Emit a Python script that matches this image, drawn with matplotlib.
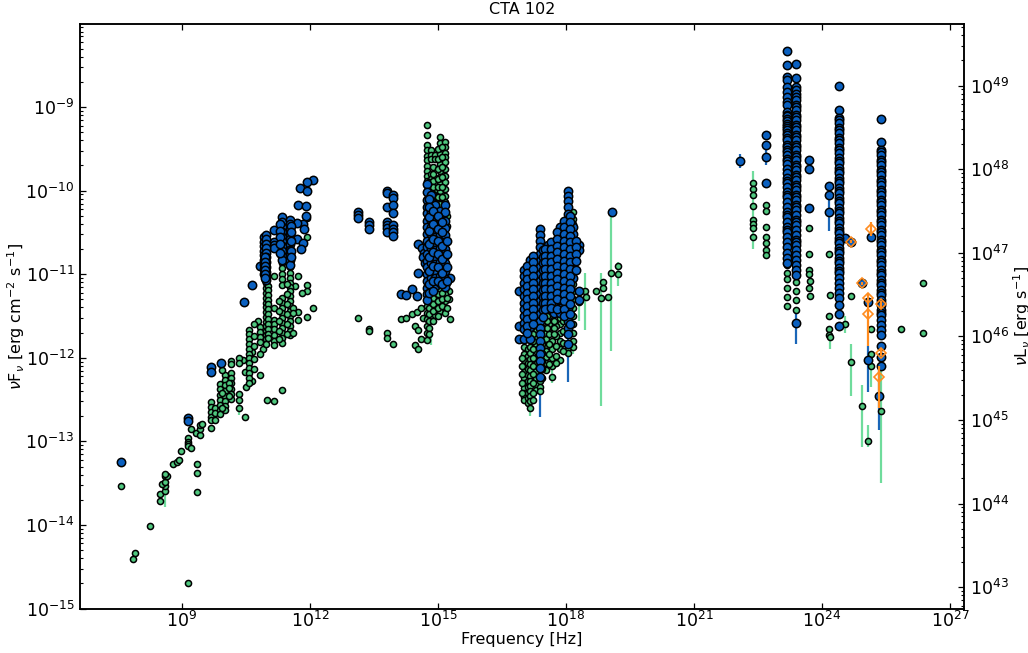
import numpy as np
import matplotlib
matplotlib.use("Agg")
import matplotlib.pyplot as plt

# everything is log10(frequency) and log10(nuFnu)
# scattered green points
radio_g_nu = [7.56, 7.90, 7.86, 8.24, 9.14, 8.49, 8.49, 8.60, 8.60, 8.54, 8.60, 8.60, 8.66, 8.60, 8.79, 8.88, 8.93, 8.98,
              9.14, 9.14, 9.14, 9.14, 9.22, 9.36, 9.36, 9.36, 9.22, 9.34, 9.42, 9.42, 9.42, 9.48,
              10.44, 10.48, 10.48, 10.49, 10.63, 10.63, 10.78, 11.0, 11.16, 11.34, 11.73, 11.92, 11.92, 11.82, 12.08,
              11.73, 11.73, 11.92, 11.66, 11.92, 11.92, 11.10, 10.90]
radio_g_f = [-13.54, -14.33, -14.41, -14.01, -14.69, -13.71, -13.63, -13.60, -13.54, -13.51, -13.49, -13.41, -13.41, -13.39, -13.27, -13.25, -13.22, -13.11,
             -12.96, -13.01, -13.03, -13.06, -13.08, -13.27, -13.38, -13.61, -12.85, -12.90, -12.93, -12.85, -12.81, -12.79,
             -12.03, -12.17, -12.71, -12.35, -11.93, -12.28, -11.56, -12.50, -12.52, -12.38, -11.02, -11.13, -11.20, -11.22, -11.41,
             -11.45, -11.55, -11.51, -11.14, -10.33, -10.56, -11.60, -11.90]

# columns of green points: one frequency, many fluxes
radio_g_cols = [9.68, 9.78, 9.89, 10.01, 10.16, 10.34, 10.57, 10.84, 10.98, 11.16, 11.34, 11.53, 9.95, 10.10, 10.70, 11.02, 11.28, 11.47, 11.60]
radio_g_vals = [
    [-12.53, -12.59, -12.65, -12.71, -12.75, -12.84],
    [-12.60, -12.66, -12.74],
    [-12.31, -12.37, -12.44, -12.50, -12.56, -12.62, -12.67],
    [-12.21, -12.27, -12.33, -12.40, -12.46, -12.52, -12.58, -12.63],
    [-12.04, -12.07, -12.18, -12.24, -12.30, -12.37, -12.43, -12.49],
    [-12.00, -12.06, -12.43, -12.51, -12.60],
    [-11.67, -11.72, -11.77, -11.83, -11.89, -11.95, -12.00, -12.06, -12.12, -12.18, -12.24, -12.30],
    [-11.63, -11.69, -11.75, -11.81, -11.95, -12.21],
    [-11.11, -11.16, -11.22, -11.28, -11.34, -11.39, -11.45, -11.51, -11.57, -11.62, -11.68, -11.73, -11.78, -11.83],
    [-11.02, -11.41, -11.55, -11.60, -11.66, -11.73, -11.80, -11.85],
    [-10.87, -10.93, -11.00, -11.06, -11.13, -11.28, -11.34, -11.40, -11.46, -11.52, -11.58, -11.64, -11.70, -11.76, -11.82],
    [-10.92, -10.98, -11.05, -11.10, -11.15, -11.20, -11.26, -11.32, -11.38, -11.44, -11.50, -11.56, -11.62, -11.68, -11.73],
    [-12.15, -12.42, -12.60],
    [-12.30, -12.36, -12.46],
    [-11.60, -11.74, -11.86, -12.02, -12.14],
    [-11.14, -11.19, -11.25, -11.31, -11.36, -11.42, -11.48, -11.54, -11.60, -11.65, -11.71, -11.76],
    [-11.32, -11.44, -11.56, -11.68, -11.77],
    [-11.12, -11.24, -11.36, -11.48, -11.60, -11.71],
    [-11.40, -11.46, -11.70],
]

radio_b_nu = [7.56, 9.14, 9.14, 9.68, 9.68, 9.91, 10.46, 10.63, 10.84, 11.16, 11.16, 11.16, 11.16, 12.08, 11.92, 11.77, 11.92,
              11.73, 11.90, 11.90, 11.83, 11.85, 11.69, 11.69, 11.83, 11.78]
radio_b_f = [-13.25, -12.72, -12.76, -12.11, -12.17, -12.06, -11.33, -11.13, -10.90, -10.47, -10.62, -10.65, -10.69, -9.87, -9.90, -9.97, -10.00,
             -10.17, -10.18, -10.30, -10.40, -10.46, -10.39, -10.58, -10.63, -10.70]
radio_b_cols = [10.92, 10.98, 11.34, 11.53, 10.95, 11.30, 11.56]
radio_b_vals = [
    [-10.55, -10.61, -10.66, -10.72, -10.77, -10.83, -10.88, -10.94, -11.00],
    [-10.53, -10.58, -10.64, -10.69, -10.75, -10.80, -10.86, -10.91, -10.97, -11.02, -11.07],
    [-10.32, -10.38, -10.44, -10.50, -10.56, -10.60, -10.66, -10.72, -10.78, -10.83],
    [-10.35, -10.40, -10.46, -10.52, -10.58, -10.64, -10.71, -10.77, -10.83, -10.89],
    [-10.80, -10.85, -10.90, -10.95, -11.00, -11.05],
    [-10.40, -10.48, -10.56, -10.64, -10.75],
    [-10.42, -10.50, -10.60, -10.72, -10.80],
]

# optical / IR
opt_g_nu = [13.13, 13.39, 13.39, 13.81, 13.81, 13.94, 14.13, 14.25, 14.38, 14.51, 14.46, 14.53, 14.60, 14.46, 14.53, 15.29, 14.60, 14.65, 15.25, 15.25]
opt_g_f = [-11.53, -11.65, -11.68, -11.70, -11.76, -11.84, -11.54, -11.53, -11.48, -11.45, -11.62, -11.67, -11.78, -11.85, -11.90, -11.54, -11.40, -11.52, -11.30, -11.20]
opt_g_cols = [14.74, 14.84, 14.93, 15.05, 15.16, 14.79, 14.88, 15.00, 15.10, 15.21]
opt_g_vals = [
    [-9.22, -9.34, -9.46, -9.52, -9.58, -9.63, -9.70, -9.76, -9.82, -9.88, -9.95, -10.03, -10.10, -10.18, -10.26, -10.34, -10.42, -10.50,
     -10.58, -10.66, -10.74, -10.82, -10.90, -10.98, -11.06, -11.14, -11.22, -11.30, -11.38, -11.46, -11.54, -11.62, -11.70, -11.79],
    [-9.51, -9.57, -9.62, -9.80, -9.86, -9.93, -10.00, -10.08, -10.16, -10.24, -10.32, -10.40, -11.20, -11.28, -11.36, -11.44, -11.52],
    [-9.57, -9.62, -9.85, -9.92, -9.99, -10.07, -10.15, -10.23, -10.31, -10.39, -10.47, -11.25, -11.33, -11.41, -11.49],
    [-9.36, -9.43, -9.56, -9.68, -9.76, -9.84, -9.92, -10.00, -10.08, -10.16, -10.24, -10.32, -11.20, -11.28, -11.36, -11.44],
    [-9.42, -9.48, -9.55, -9.60, -9.66, -9.74, -9.82, -9.90, -9.98, -10.06, -10.14, -11.18, -11.24, -11.32, -11.40, -11.46],
    [-9.90, -9.98, -10.06, -11.24, -11.32, -11.40, -11.48, -11.56, -11.64, -11.72],
    [-9.72, -9.80, -9.88, -9.96, -10.04, -11.28, -11.36, -11.44, -11.56],
    [-9.50, -9.62, -9.74, -9.86, -9.96, -10.08, -11.24, -11.32, -11.40, -11.50],
    [-9.48, -9.60, -9.72, -9.84, -9.96, -10.08, -11.22, -11.30, -11.38],
    [-10.30, -10.42, -11.10, -11.28, -11.40],
]
opt_b_nu = [13.13, 13.13, 13.13, 13.39, 13.39, 13.39, 13.81, 13.81, 13.81, 13.81, 13.81, 13.81, 13.81,
            13.94, 13.94, 13.94, 13.94, 13.94, 13.94, 13.94, 13.94,
            14.53, 14.62, 14.68, 14.64, 14.70, 14.54, 14.38, 14.13, 14.25, 14.50, 15.29]
opt_b_f = [-10.25, -10.29, -10.33, -10.37, -10.41, -10.46, -10.01, -10.03, -10.20, -10.37, -10.41, -10.45, -10.49,
           -10.05, -10.09, -10.17, -10.27, -10.41, -10.46, -10.50, -10.54,
           -10.64, -10.69, -10.75, -10.80, -10.87, -10.99, -11.18, -11.24, -11.25, -11.26, -11.05]
opt_b_cols = [14.74, 14.84, 14.93, 15.05, 15.16, 14.79, 14.88, 15.00, 15.10, 15.21]
opt_b_vals = [
    [-9.92, -10.02, -10.11, -10.20, -10.27, -10.36, -10.44, -10.52, -10.60, -10.68, -10.76, -10.84, -10.92, -11.00, -11.08, -11.16, -11.24, -11.31],
    [-10.05, -10.14, -10.26, -10.35, -10.44, -10.52, -10.61, -10.69, -10.78, -10.87, -10.95, -11.04, -11.13],
    [-10.17, -10.28, -10.37, -10.46, -10.55, -10.63, -10.71, -10.80, -10.88, -10.96, -11.05, -11.14],
    [-10.24, -10.34, -10.43, -10.52, -10.61, -10.69, -10.77, -10.85, -10.93, -11.02, -11.10],
    [-10.17, -10.26, -10.36, -10.45, -10.53, -10.61, -10.70, -10.78, -10.87, -10.96, -11.06, -11.15],
    [-10.10, -10.20, -10.32, -10.48, -10.64, -10.80, -10.96, -11.12, -11.22],
    [-10.24, -10.40, -10.58, -10.74, -10.90, -11.08, -11.20],
    [-10.30, -10.46, -10.60, -10.76, -10.92, -11.08],
    [-10.38, -10.50, -10.66, -10.82, -10.98, -11.12],
    [-10.60, -10.76, -10.92, -11.08],
]

# X-ray
xray_g_nu = [18.71, 18.82, 18.86, 18.86, 18.98, 19.05, 19.23, 19.23, 18.45, 18.47, 18.30]
xray_g_f = [-11.20, -11.29, -11.09, -11.16, -11.27, -10.98, -10.90, -11.00, -11.20, -11.27, -11.33]
xray_g_cols = [17.02, 17.10, 17.16, 17.30, 17.39, 17.53, 17.67, 17.86, 18.04, 18.17, 16.96, 17.23, 17.45, 17.60, 17.76, 17.94, 17.56, 17.72]
xray_g_vals = [
    [-11.87, -11.95, -12.03, -12.10, -12.17, -12.24, -12.30, -12.36, -12.42, -12.47, -12.51],
    [-11.90, -11.98, -12.06, -12.14, -12.21, -12.28, -12.35, -12.42, -12.48, -12.54],
    [-11.87, -11.94, -12.01, -12.08, -12.15, -12.22, -12.28, -12.34, -12.40, -12.46, -12.52, -12.60],
    [-11.60, -11.68, -11.76, -11.84, -11.92, -12.00, -12.08, -12.16, -12.24, -12.31, -12.38],
    [-12.28, -12.35, -12.40],
    [-11.63, -11.70, -11.78, -11.85, -11.92, -11.99, -12.06, -12.15],
    [-11.40, -11.50, -11.60, -11.70, -11.80, -11.90, -12.00, -12.10, -12.23],
    [-11.52, -11.60, -11.70, -11.80, -11.90, -12.03],
    [-11.88, -11.94],
    [-10.26, -10.34, -10.40, -11.12, -11.20, -11.30, -11.40, -11.50, -11.60, -11.70, -11.80, -11.87],
    [-12.00, -12.10, -12.20, -12.30, -12.42],
    [-11.72, -11.80, -11.90, -12.00, -12.10, -12.20, -12.30, -12.42, -12.50],
    [-11.84, -11.94, -12.04, -12.14, -12.24],
    [-11.50, -11.60, -11.72, -11.84, -11.96, -12.08],
    [-11.62, -11.74, -11.86, -11.98, -12.06],
    [-11.56, -11.68, -11.82, -11.92],
    [-11.42, -11.50, -11.56, -11.64],
    [-11.48, -11.56, -11.64, -11.72],
]
xray_b_nu = [18.30, 18.30, 18.30, 18.30, 16.90, 16.90, 16.90, 19.08]
xray_b_f = [-10.65, -10.71, -11.20, -11.31, -11.20, -11.62, -11.77, -10.26]
xray_b_cols = [17.02, 17.16, 17.30, 17.39, 17.46, 17.58, 17.73, 17.86, 18.04, 18.17, 17.09, 17.23, 17.52, 17.65, 17.80, 17.95, 18.10, 18.24]
xray_b_vals = [
    [-10.95, -11.02, -11.10, -11.18, -11.26, -11.34, -11.42, -11.50, -11.58, -11.66, -11.77],
    [-10.83, -10.91, -10.99, -11.07, -11.15, -11.23, -11.31, -11.39, -11.47, -11.55, -11.63, -11.77],
    [-10.81, -10.89, -10.97, -11.05, -11.13, -11.21, -11.29, -11.37, -11.45, -11.55],
    [-10.46, -10.53, -10.60, -10.68, -10.76, -10.84, -10.92, -11.00, -11.08, -11.16, -11.24, -11.32, -11.40, -11.48, -11.56, -11.64, -11.72, -11.80, -11.88, -11.96, -12.04, -12.12, -12.23],
    [-10.71, -10.79, -10.87, -10.95, -11.03, -11.11, -11.19, -11.27, -11.35, -11.43, -11.51],
    [-10.65, -10.73, -10.81, -10.89, -10.97, -11.05, -11.13, -11.21, -11.29, -11.35],
    [-10.62, -10.70, -10.78, -10.86, -10.94, -11.02, -11.10, -11.18, -11.26, -11.34, -11.47],
    [-10.44, -10.52, -10.60, -10.68, -10.76, -10.84, -10.92, -11.00, -11.08, -11.16, -11.24, -11.32, -11.40, -11.47],
    [-10.01, -10.06, -10.13, -10.20, -10.28, -10.36, -10.44, -10.52, -10.60, -10.68, -10.76, -10.84, -10.92, -11.00, -11.08, -11.16, -11.24, -11.32, -11.40, -11.48, -11.56, -11.64, -11.72, -11.83],
    [-10.44, -10.52, -10.60, -10.68, -10.76, -10.84, -10.94, -11.04],
    [-10.90, -10.98, -11.06, -11.14, -11.22, -11.30, -11.38, -11.46, -11.54, -11.62, -11.70],
    [-10.78, -10.86, -10.94, -11.02, -11.10, -11.18, -11.26, -11.34, -11.42, -11.50, -11.60],
    [-10.70, -10.78, -10.86, -10.94, -11.02, -11.10, -11.18, -11.26, -11.34, -11.42],
    [-10.62, -10.70, -10.78, -10.86, -10.94, -11.02, -11.10, -11.18, -11.26, -11.34, -11.40],
    [-10.50, -10.58, -10.66, -10.74, -10.82, -10.90, -10.98, -11.06, -11.14, -11.22, -11.30, -11.42],
    [-10.36, -10.44, -10.52, -10.60, -10.68, -10.76, -10.84, -10.92, -11.00, -11.08, -11.16, -11.24, -11.32, -11.42, -11.50],
    [-10.30, -10.38, -10.46, -10.54, -10.62, -10.70, -10.78, -10.86, -10.94, -11.02, -11.10, -11.18, -11.26, -11.36, -11.48, -11.60],
    [-10.60, -10.68, -10.76, -10.84, -10.95],
]

# gamma rays
gam_g_nu = [22.38, 22.38, 22.38, 22.38, 22.38, 22.38, 22.38, 22.38,
            22.69, 22.69, 22.69, 22.69, 22.69, 22.69, 22.69,
            23.69, 23.69, 23.69, 23.69, 23.71, 23.69, 23.71,
            24.16, 24.20, 24.16, 24.16, 24.16, 24.20,
            24.55, 24.69, 24.69, 24.93, 25.08, 25.16, 25.16, 25.16, 25.38, 25.85, 26.38, 26.38]
gam_g_f = [-9.91, -9.98, -10.05, -10.19, -10.35, -10.40, -10.45, -10.55,
           -10.17, -10.24, -10.43, -10.56, -10.63, -10.71, -10.77,
           -10.45, -10.76, -10.95, -11.00, -11.08, -11.17, -11.26,
           -10.76, -11.25, -11.50, -11.66, -11.73, -11.75,
           -11.60, -11.26, -12.05, -12.58, -13.00, -11.66, -11.96, -12.10, -12.64, -11.65, -11.10, -11.70]
gam_g_cols = [23.18, 23.39]
gam_g_vals = [
    [-10.89, -10.98, -11.06, -11.17, -11.27, -11.38],
    [-11.02, -11.09, -11.20, -11.31, -11.43],
]
gam_b_nu = [22.08, 22.69, 22.69, 22.69, 22.69, 23.69, 23.69, 23.69, 24.16, 24.16, 24.16, 24.55, 24.69, 24.93, 25.08, 25.16, 25.08, 25.34, 23.39, 24.39, 24.39, 25.38, 25.38, 25.38]
gam_b_f = [-9.64, -9.33, -9.46, -9.60, -9.91, -9.63, -9.74, -10.21, -9.95, -10.05, -10.26, -10.57, -10.61, -11.11, -11.33, -10.55, -12.03, -12.46, -11.59, -11.48, -11.62, -11.86, -11.99, -12.10]
gam_b_cols = [23.18, 23.39, 24.39, 25.38]
gam_b_vals = [
    [-8.33, -8.50, -8.64, -8.68, -8.76, -8.82, -8.88, -8.94, -8.98, -9.06, -9.09, -9.11, -9.14, -9.17, -9.20, -9.23, -9.25, -9.28, -9.31, -9.34, -9.37, -9.40, -9.45, -9.48, -9.51, -9.54, -9.57, -9.62, -9.65, -9.68, -9.74,
     -9.79, -9.85, -9.88, -9.91, -9.96, -10.02, -10.05, -10.08, -10.14, -10.20, -10.26, -10.29, -10.32, -10.38, -10.44, -10.47, -10.50, -10.56, -10.62, -10.67, -10.75, -10.81, -10.87],
    [-8.48, -8.65, -8.76, -8.80, -8.85, -8.88, -8.91, -8.97, -9.00, -9.03, -9.09, -9.12, -9.15, -9.21, -9.24, -9.27, -9.33, -9.36, -9.39, -9.45, -9.48, -9.51, -9.57, -9.60, -9.63, -9.69, -9.72, -9.75, -9.81, -9.84, -9.87,
     -9.93, -9.96, -9.99, -10.05, -10.08, -10.11, -10.17, -10.20, -10.23, -10.29, -10.35, -10.38, -10.41, -10.47, -10.53, -10.59, -10.62, -10.65, -10.71, -10.77, -10.83, -10.89, -10.95, -11.01],
    [-8.75, -9.03, -9.13, -9.16, -9.19, -9.25, -9.28, -9.31, -9.37, -9.40, -9.43, -9.49, -9.52, -9.55, -9.61, -9.64, -9.67, -9.73, -9.76, -9.79, -9.85, -9.88, -9.91, -9.97, -10.00, -10.03, -10.09, -10.12, -10.15, -10.21, -10.24, -10.27,
     -10.33, -10.36, -10.39, -10.45, -10.48, -10.51, -10.57, -10.60, -10.63, -10.69, -10.72, -10.75, -10.81, -10.84, -10.87, -10.93, -10.96, -10.99, -11.05, -11.11, -11.17, -11.23, -11.29, -11.37],
    [-9.14, -9.42, -9.51, -9.54, -9.57, -9.63, -9.66, -9.69, -9.75, -9.78, -9.81, -9.87, -9.90, -9.93, -9.99, -10.02, -10.05, -10.11, -10.14, -10.17, -10.23, -10.26, -10.29, -10.35, -10.38, -10.41, -10.47, -10.50, -10.53, -10.59, -10.62, -10.65,
     -10.71, -10.74, -10.77, -10.83, -10.86, -10.89, -10.95, -10.98, -11.01, -11.07, -11.10, -11.13, -11.19, -11.22, -11.25, -11.31, -11.34, -11.37, -11.43, -11.46, -11.49, -11.55, -11.61, -11.67, -11.73],
]

# open orange diamonds and their bars
orange_nu = [24.69, 24.93, 25.08, 25.08, 25.16, 25.38, 25.38, 25.34]
orange_f = [-10.61, -11.11, -11.28, -11.48, -10.46, -11.36, -11.94, -12.23]
orange_lo = [-10.63, -11.13, -11.32, -11.86, -10.54, -11.40, -11.98, -12.60]
orange_hi = [-10.59, -11.09, -11.24, -11.31, -10.38, -11.32, -11.90, -12.10]

# long error bars that stick out of the markers
green_err_nu = [8.60, 10.34, 14.84, 18.82, 19.05, 19.23, 18.45, 18.30, 22.38, 24.20, 24.55, 24.69, 24.93, 25.08, 25.16, 25.38, 17.16, 17.30, 17.67, 18.17]
green_err_lo = [-13.78, -12.68, -11.85, -12.58, -11.92, -11.14, -11.67, -11.56, -10.70, -11.89, -11.70, -12.46, -13.07, -13.07, -12.35, -13.50, -12.70, -12.46, -12.30, -11.95]
green_err_hi = [-13.60, -12.50, -11.70, -10.98, -10.25, -10.85, -10.99, -11.27, -9.77, -11.66, -11.50, -11.83, -12.33, -12.80, -12.10, -12.10, -12.50, -12.30, -12.10, -11.80]
blue_err_nu = [22.08, 22.69, 24.16, 23.39, 25.08, 25.34, 17.39, 18.04]
blue_err_lo = [-9.73, -9.69, -10.48, -11.83, -12.41, -12.87, -12.71, -12.29]
blue_err_hi = [-9.56, -9.51, -10.11, -11.43, -11.86, -12.10, -12.10, -11.70]

ax_xlim = (6.61, 27.33)
ax_ylim = (-15, -8.003)
L_OFFSET = 57.744  # log10 nuLnu - log10 nuFnu

GREEN = "#4fc87f"
GREEN_ERR = "#6fdc9c"
BLUE = "#0a60c0"
BLUE_ERR = "#1a66b8"
ORANGE = "#ff8c1f"


def expand(nu, f, cols, vals):
    # flatten a scatter list plus columns into plain arrays
    xs = list(nu)
    ys = list(f)
    for c, v in zip(cols, vals):
        xs += [c] * len(v)
        ys += v
    return 10.0 ** np.array(xs), 10.0 ** np.array(ys)


plt.rcParams["font.family"] = "DejaVu Sans"

fig = plt.figure(figsize=(10.28, 6.53), dpi=100)
ax = fig.add_axes([80 / 1028, 1 - 608.5 / 653, 884 / 1028, 584.8 / 653])
ax.set_xscale("log")
ax.set_yscale("log")

# bars first
ax.vlines(10.0 ** np.array(green_err_nu), 10.0 ** np.array(green_err_lo), 10.0 ** np.array(green_err_hi), color=GREEN_ERR, lw=1.6, zorder=1)
ax.vlines(10.0 ** np.array(blue_err_nu), 10.0 ** np.array(blue_err_lo), 10.0 ** np.array(blue_err_hi), color=BLUE_ERR, lw=1.6, zorder=2)

# green set
for nu, f, cols, vals in [(radio_g_nu, radio_g_f, radio_g_cols, radio_g_vals),
                          (opt_g_nu, opt_g_f, opt_g_cols, opt_g_vals),
                          (xray_g_nu, xray_g_f, xray_g_cols, xray_g_vals),
                          (gam_g_nu, gam_g_f, gam_g_cols, gam_g_vals)]:
    x, y = expand(nu, f, cols, vals)
    ax.plot(x, y, "o", ms=4.4, mfc=GREEN, mec="k", mew=1.1, zorder=3)

# blue set
for nu, f, cols, vals in [(radio_b_nu, radio_b_f, radio_b_cols, radio_b_vals),
                          (opt_b_nu, opt_b_f, opt_b_cols, opt_b_vals),
                          (xray_b_nu, xray_b_f, xray_b_cols, xray_b_vals),
                          (gam_b_nu, gam_b_f, gam_b_cols, gam_b_vals)]:
    x, y = expand(nu, f, cols, vals)
    ax.plot(x, y, "o", ms=6.0, mfc=BLUE, mec="k", mew=1.1, zorder=4)

# orange diamonds
ax.vlines(10.0 ** np.array(orange_nu), 10.0 ** np.array(orange_lo), 10.0 ** np.array(orange_hi), color=ORANGE, lw=1.6, zorder=5)
ax.plot(10.0 ** np.array(orange_nu), 10.0 ** np.array(orange_f), "D", ms=5.0, mfc="none", mec=ORANGE, mew=1.2, zorder=6)

ax.set_xlim(10.0 ** ax_xlim[0], 10.0 ** ax_xlim[1])
ax.set_ylim(10.0 ** ax_ylim[0], 10.0 ** ax_ylim[1])
ax.set_xticks([1e9, 1e12, 1e15, 1e18, 1e21, 1e24, 1e27])
ax.minorticks_off()
ax.yaxis.set_major_locator(matplotlib.ticker.LogLocator(base=10, numticks=12))
ax.yaxis.set_minor_locator(matplotlib.ticker.LogLocator(base=10, subs=np.arange(2, 10), numticks=12))
ax.yaxis.set_minor_formatter(matplotlib.ticker.NullFormatter())
ax.tick_params(axis="x", which="major", direction="in", top=True, length=4, width=0.9, labelsize=12.5, pad=2)
ax.tick_params(axis="y", which="major", direction="in", right=False, length=4, width=0.9, labelsize=12.5, pad=4)
ax.tick_params(axis="y", which="minor", direction="in", right=False, length=2.2, width=0.8)

ax.set_title("CTA 102", fontsize=11.5, pad=7)
ax.set_xlabel("Frequency [Hz]", fontsize=11.5)
ax.xaxis.set_label_coords(0.5, -0.041)
ax.set_ylabel(r"$\nu$F$_\nu$ [erg cm$^{-2}$ s$^{-1}$]", fontsize=11.5)
ax.yaxis.set_label_coords(-0.06, 0.5)

ax2 = ax.twinx()
ax2.set_yscale("log")
ax2.set_ylim(10.0 ** (ax_ylim[0] + L_OFFSET), 10.0 ** (ax_ylim[1] + L_OFFSET))
ax2.yaxis.set_major_locator(matplotlib.ticker.LogLocator(base=10, numticks=12))
ax2.yaxis.set_minor_locator(matplotlib.ticker.LogLocator(base=10, subs=np.arange(2, 10), numticks=12))
ax2.yaxis.set_minor_formatter(matplotlib.ticker.NullFormatter())
ax2.tick_params(axis="y", which="major", direction="in", length=4, width=0.9, labelsize=12.5, pad=4)
ax2.tick_params(axis="y", which="minor", direction="in", length=2.2, width=0.8)
ax2.set_ylabel(r"$\nu$L$_\nu$ [erg s$^{-1}$]", fontsize=11.5)
ax2.yaxis.set_label_coords(1.053, 0.5)

for a in (ax, ax2):
    for s in a.spines.values():
        s.set_linewidth(1.1)

fig.savefig("out.png", dpi=100)
